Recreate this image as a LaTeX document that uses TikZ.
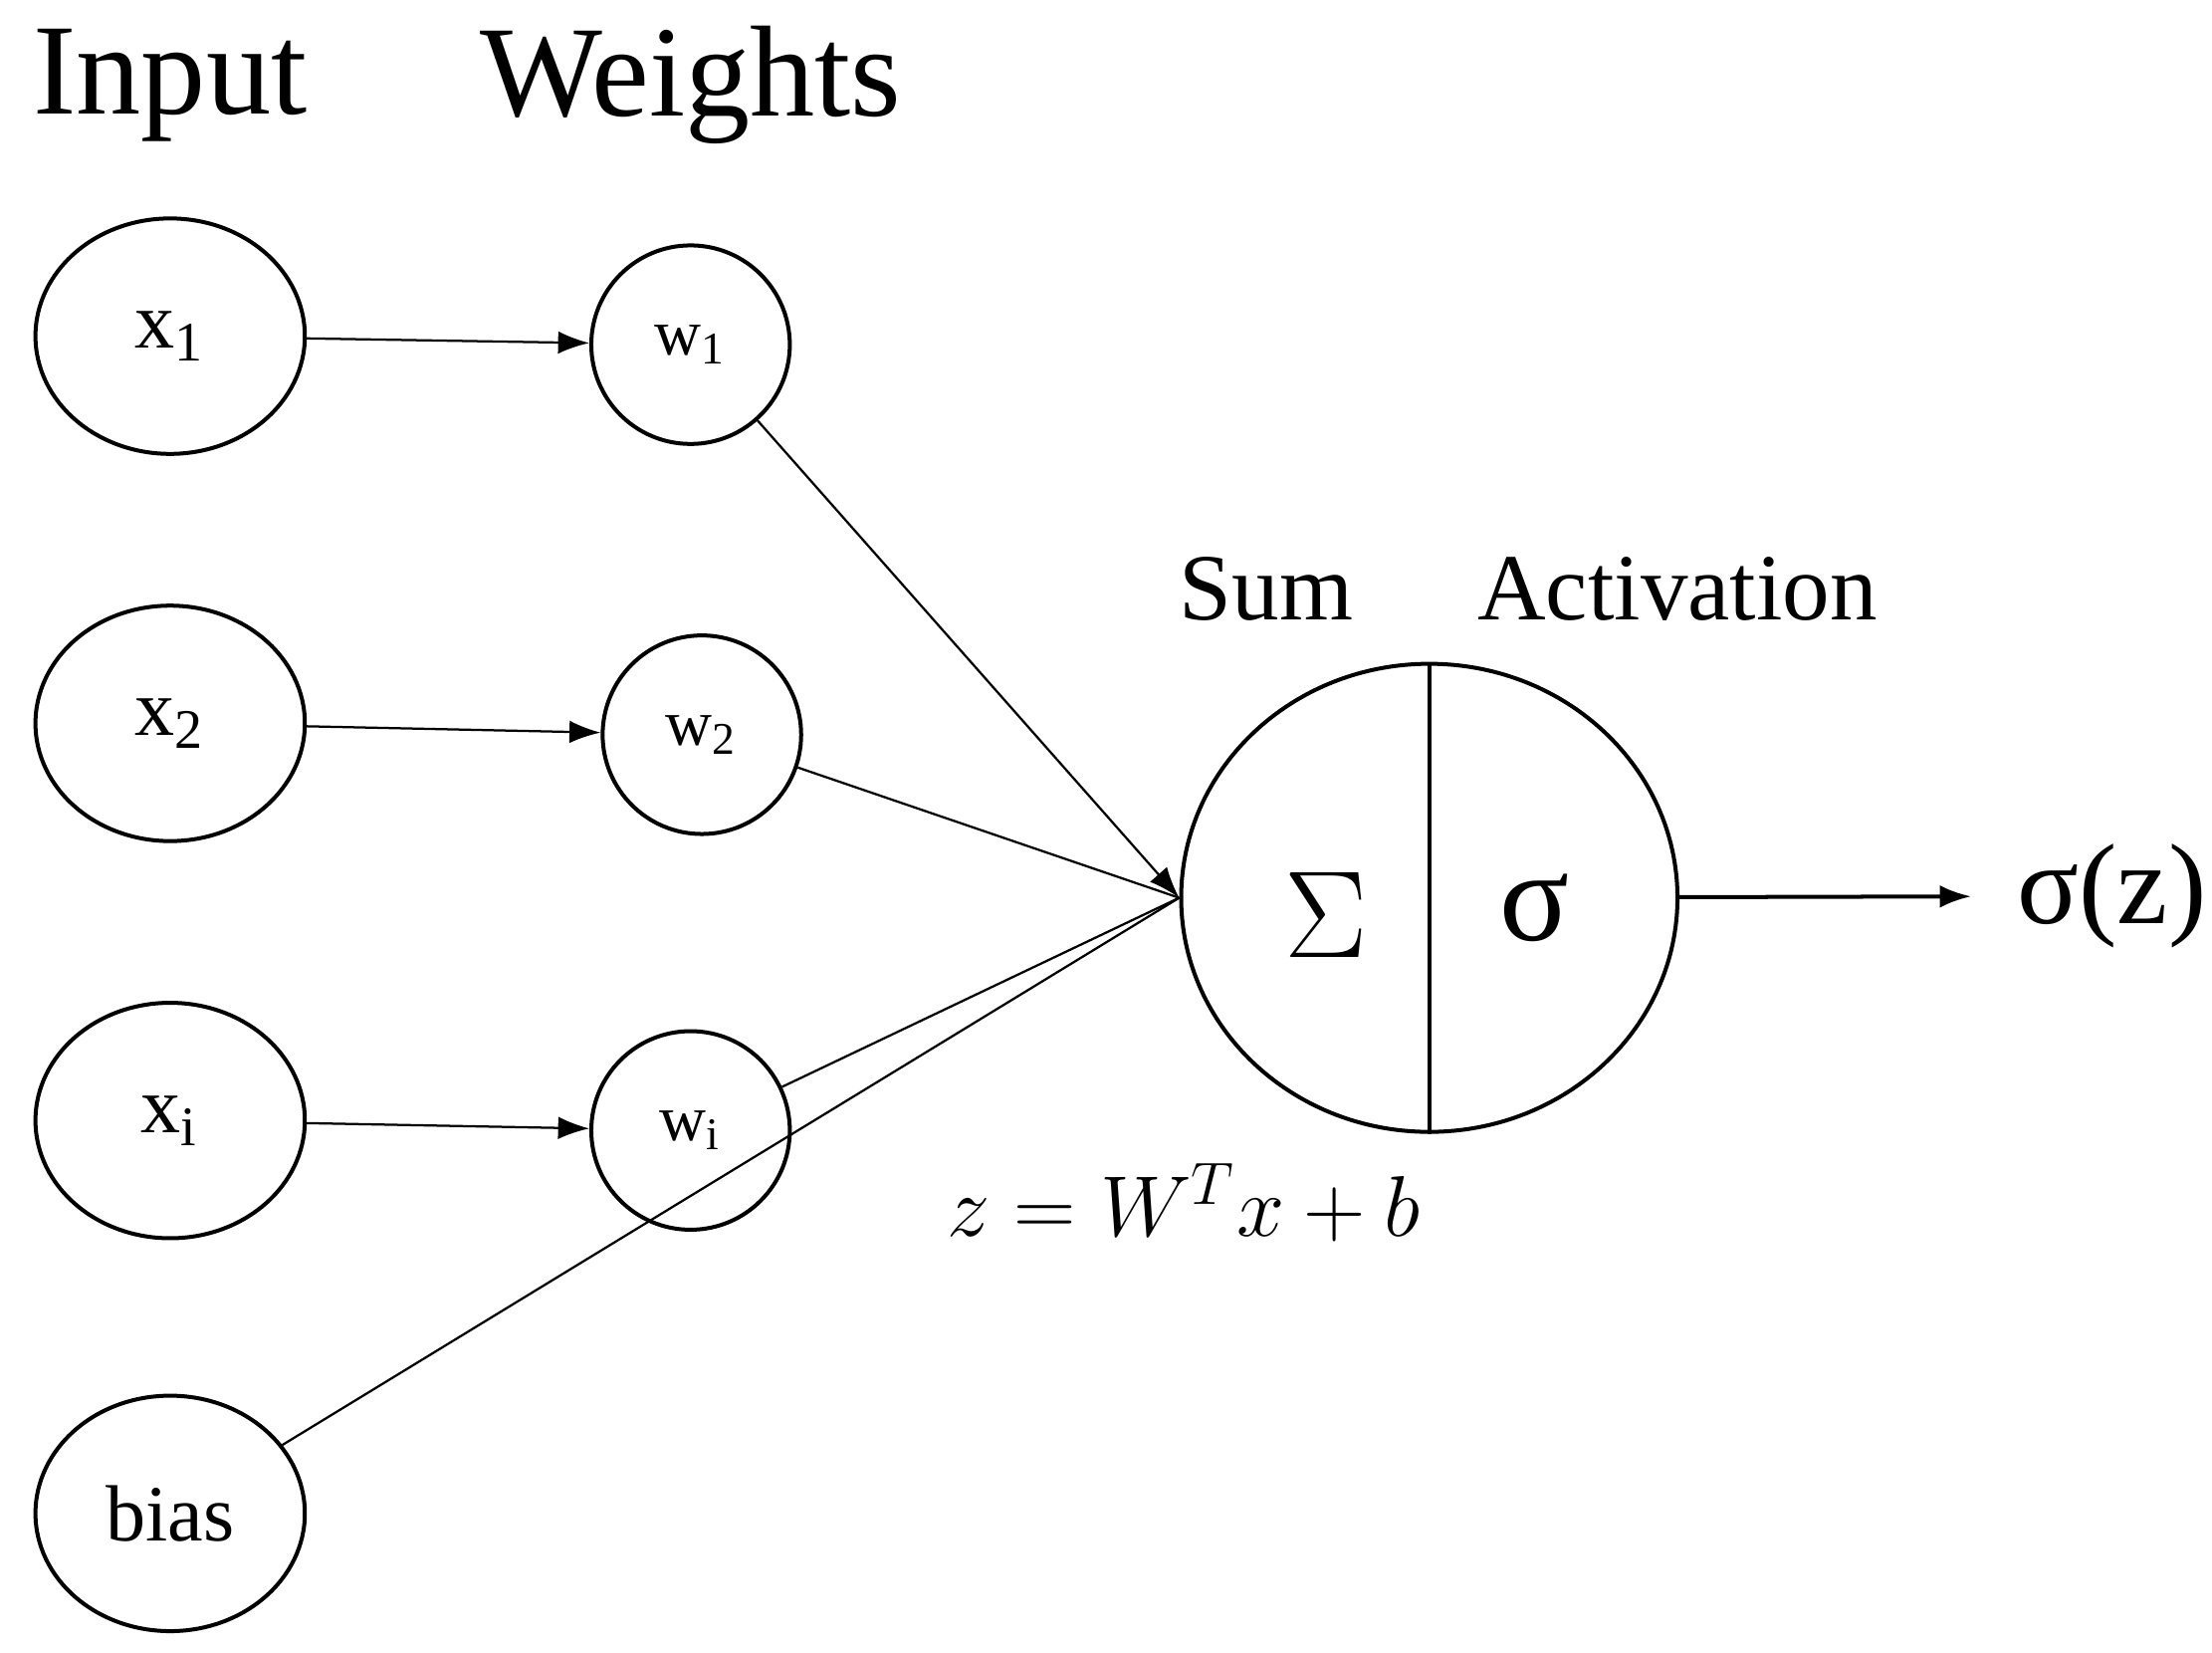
\documentclass[tikz,border=0pt]{standalone}
\usepackage{fontspec}
\setmainfont{Liberation Serif}
\usetikzlibrary{shapes.geometric,arrows.meta}
\begin{document}
\begin{tikzpicture}[
    inp/.style={ellipse,draw,line width=0.8pt,minimum width=1.9cm,minimum height=1.66cm,font=\fontsize{16}{18}\selectfont},
    wgt/.style={circle,draw,line width=0.8pt,minimum size=1.4cm,font=\fontsize{13}{15}\selectfont},
    arr/.style={-{Latex[length=2.2mm,width=1.6mm]},line width=0.45pt},
    ln/.style={line width=0.45pt}]
\useasboundingbox (0,0) rectangle (15.6,11.65);
% titles
\node (tin) at (1.2,11.05) {\fontsize{26}{30}\selectfont Input};
\node (tw) at (4.87,11.05) {\fontsize{26}{30}\selectfont Weights};
% inputs and weights
\node[inp] (x1) at (1.2,9.28) {x\textsubscript{1}};
\node[inp] (x2) at (1.2,6.55) {x\textsubscript{2}};
\node[inp] (xi) at (1.2,3.75) {x\textsubscript{i}};
\node[inp] (bias) at (1.2,0.98) {bias};
\node[wgt] (w1) at (4.87,9.22) {w\textsubscript{1}};
\node[wgt] (w2) at (4.95,6.47) {w\textsubscript{2}};
\node[wgt] (wi) at (4.87,3.68) {w\textsubscript{i}};
% neuron
\node[ellipse,draw,line width=0.8pt,minimum width=3.5cm,minimum height=3.3cm] (nrn) at (10.08,5.32) {};
\draw[line width=0.8pt] (nrn.north) -- (nrn.south);
\node (sig) at (9.35,5.2) {\fontsize{55}{60}\selectfont$\Sigma$};
\node (act) at (10.82,5.25) {\fontsize{26}{30}\selectfont σ};
\node (sum) at (8.93,7.5) {\fontsize{19}{22}\selectfont Sum};
\node (tact) at (11.83,7.5) {\fontsize{19}{22}\selectfont Activation};
\node (eq) at (8.35,3.17) {\fontsize{17}{20}\selectfont$z = W^T x + b$};
% connectors
\foreach \a/\b in {x1/w1,x2/w2,xi/wi} {
    \draw[arr] (\a) -- (\b);
}
\draw[arr] (w1) -- (nrn.west);
\foreach \a in {w2,wi,bias} {
    \draw[ln] (\a) -- (nrn.west);
}
\coordinate (out) at (13.9,5.33);
\draw[arr,line width=0.8pt] (nrn) -- (out);
\node[anchor=west,inner sep=0pt] (oz) at (14.22,5.33) {\fontsize{23}{26}\selectfont σ(z)};
\end{tikzpicture}
\end{document}
